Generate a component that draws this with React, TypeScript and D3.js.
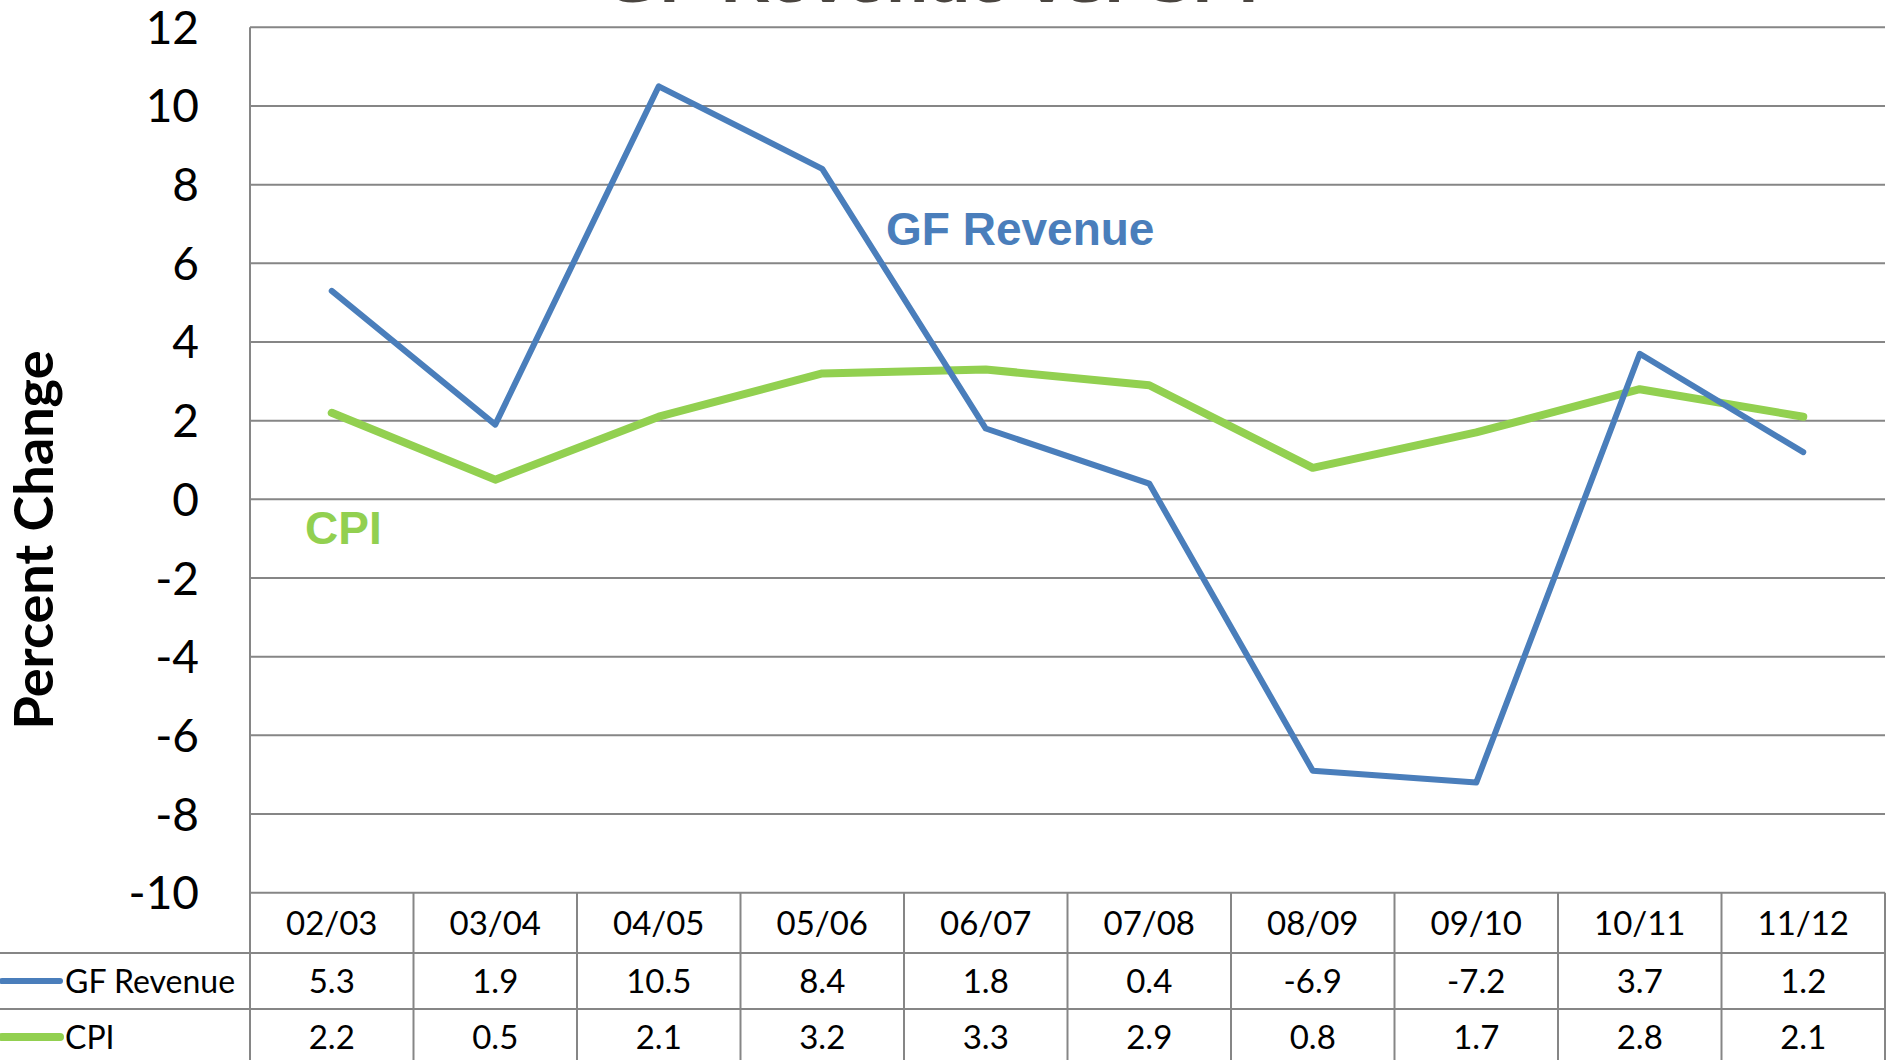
import React from "react";
import * as d3 from "d3";

const categories = ["02/03", "03/04", "04/05", "05/06", "06/07", "07/08", "08/09", "09/10", "10/11", "11/12"];
const gfRevenue = [5.3, 1.9, 10.5, 8.4, 1.8, 0.4, -6.9, -7.2, 3.7, 1.2];
const cpi = [2.2, 0.5, 2.1, 3.2, 3.3, 2.9, 0.8, 1.7, 2.8, 2.1];
const yTicks = [12, 10, 8, 6, 4, 2, 0, -2, -4, -6, -8, -10];
const seriesNames = ["GF Revenue", "CPI"];
const titleText = "GF Revenue vs. CPI";

const W = 1892;
const H = 1060;
const plotLeft = 250;
const plotRight = 1885;
const plotTop = 27.3;
const plotBottom = 892.7;
const rowLines = [953, 1009];
const rowCenters = [923, 981, 1037];

const BLUE = "#4A7EBB";
const GREEN = "#92D050";
const GRID = "#868686";
const FONT = "Lato, 'Open Sans', sans-serif";

export default function App() {
  const x = d3.scaleBand<string>().domain(categories).range([plotLeft, plotRight]).padding(0);
  const y = d3.scaleLinear().domain([-10, 12]).range([plotBottom, plotTop]);
  const cx = (c: string) => (x(c) as number) + x.bandwidth() / 2;

  const line = d3
    .line<number>()
    .x((_, i) => cx(categories[i]))
    .y((d) => y(d));

  const series = [
    { name: seriesNames[0], values: gfRevenue, color: BLUE, width: 6 },
    { name: seriesNames[1], values: cpi, color: GREEN, width: 8 },
  ];

  return (
    <svg
      width={W}
      height={H}
      style={{ position: "absolute", left: 0, top: 0, display: "block", background: "#fff" }}
    >
      <rect x={0} y={0} width={W} height={H} fill="#fff" />
      {/* clipped title */}
      <text
        x={932}
        y={2}
        textAnchor="middle"
        fontFamily="'Liberation Sans', Arial, sans-serif"
        fontWeight="bold"
        fontSize={52}
        fill="#4A4540"
        textLength={652}
        lengthAdjust="spacingAndGlyphs"
      >
        {titleText}
      </text>

      {/* gridlines */}
      {yTicks.map((t) => (
        <line
          key={"g" + t}
          x1={plotLeft}
          x2={plotRight}
          y1={y(t)}
          y2={y(t)}
          stroke={GRID}
          strokeWidth={2}
        />
      ))}

      {/* y tick labels */}
      {yTicks.map((t) => (
        <text
          key={"t" + t}
          x={199}
          y={y(t) + 16.5}
          textAnchor="end"
          fontFamily={FONT}
          fontSize={46}
          fill="#000"
        >
          {t}
        </text>
      ))}

      {/* y axis title */}
      <text
        transform={`translate(53,540) rotate(-90)`}
        textAnchor="middle"
        fontFamily={FONT}
        fontWeight="bold"
        fontSize={54}
        fill="#000"
      >
        Percent Change
      </text>

      {/* left axis line */}
      <line x1={plotLeft} x2={plotLeft} y1={plotTop} y2={H} stroke={GRID} strokeWidth={2} />

      {/* data table */}
      {rowLines.map((ry) => (
        <line key={"r" + ry} x1={0} x2={plotRight} y1={ry} y2={ry} stroke={GRID} strokeWidth={2} />
      ))}
      {categories.map((c) => (
        <line
          key={"v" + c}
          x1={(x(c) as number) + x.bandwidth()}
          x2={(x(c) as number) + x.bandwidth()}
          y1={plotBottom}
          y2={H}
          stroke={GRID}
          strokeWidth={2}
        />
      ))}
      {categories.map((c) => (
        <text
          key={"h" + c}
          x={cx(c)}
          y={rowCenters[0] + 12}
          textAnchor="middle"
          fontFamily={FONT}
          fontSize={33}
          fill="#000"
        >
          {c}
        </text>
      ))}
      {series.map((s, si) =>
        s.values.map((v, i) => (
          <text
            key={s.name + i}
            x={cx(categories[i])}
            y={rowCenters[si + 1] + 12}
            textAnchor="middle"
            fontFamily={FONT}
            fontSize={33}
            fill="#000"
          >
            {v}
          </text>
        ))
      )}
      {series.map((s, si) => (
        <g key={"leg" + s.name}>
          <line
            x1={2}
            x2={60}
            y1={rowCenters[si + 1]}
            y2={rowCenters[si + 1]}
            stroke={s.color}
            strokeWidth={s.width}
            strokeLinecap="round"
          />
          <text
            x={65}
            y={rowCenters[si + 1] + 12}
            fontFamily={FONT}
            fontSize={32}
            fill="#000"
          >
            {s.name}
          </text>
        </g>
      ))}

      {/* lines */}
      {[series[1], series[0]].map((s) => (
        <path
          key={"p" + s.name}
          d={line(s.values) || ""}
          fill="none"
          stroke={s.color}
          strokeWidth={s.width}
          strokeLinejoin="round"
          strokeLinecap="round"
        />
      ))}

      {/* series labels */}
      <text
        x={886}
        y={245}
        fontFamily="'Liberation Sans', Arial, sans-serif"
        fontWeight="bold"
        fontSize={46}
        fill={BLUE}
      >
        {seriesNames[0]}
      </text>
      <text
        x={305}
        y={544}
        fontFamily="'Liberation Sans', Arial, sans-serif"
        fontWeight="bold"
        fontSize={46}
        fill={GREEN}
      >
        {seriesNames[1]}
      </text>
    </svg>
  );
}
